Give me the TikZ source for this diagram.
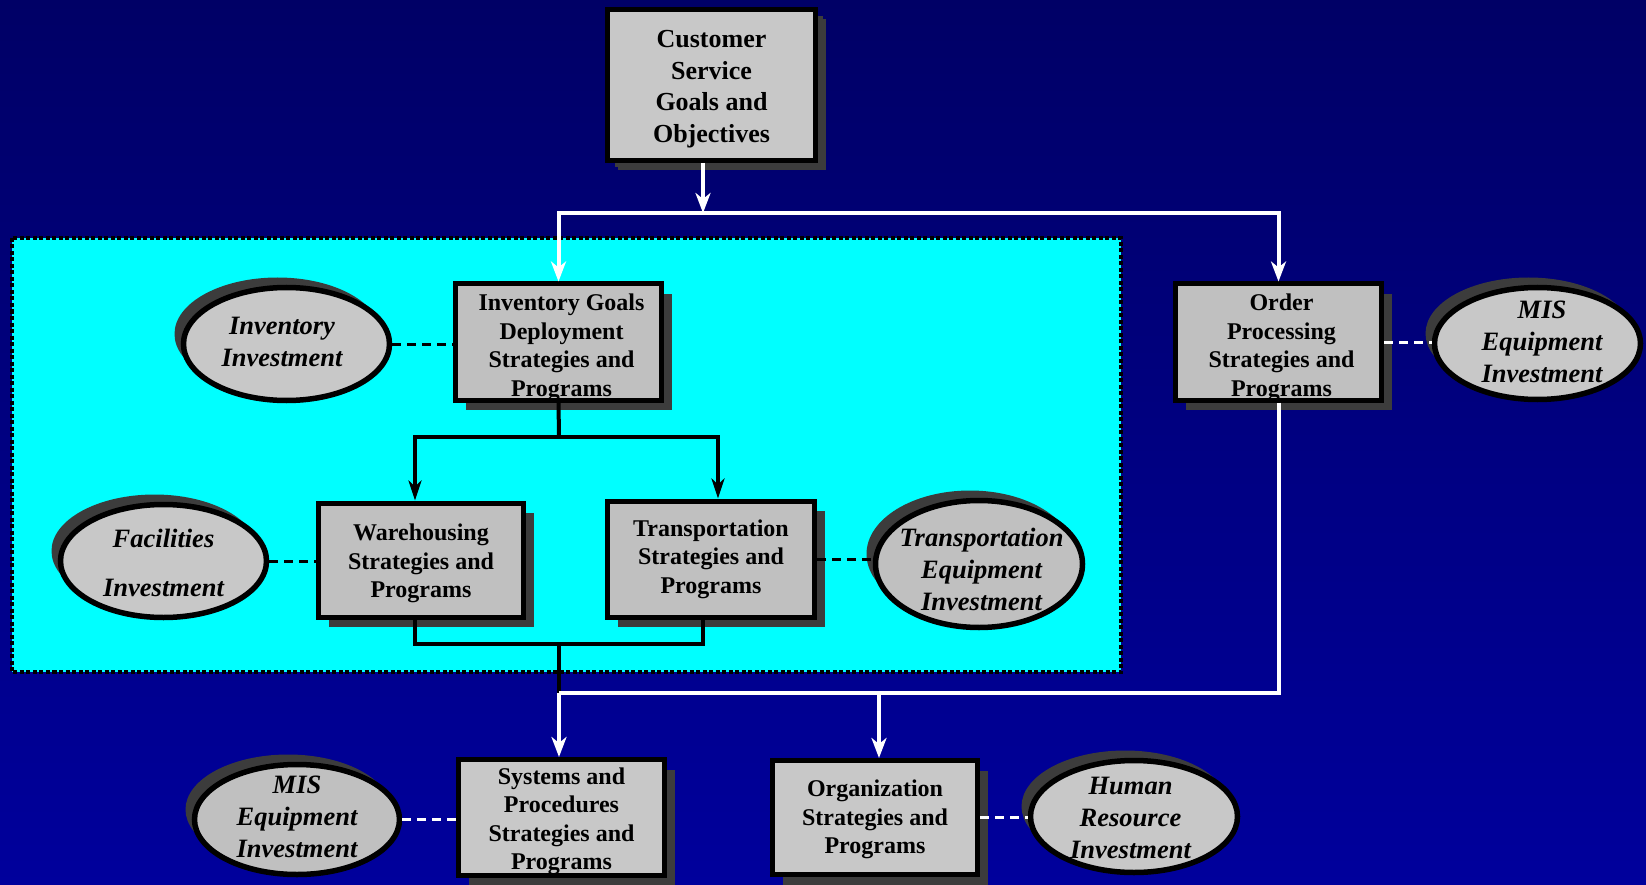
\documentclass[tikz,border=0pt]{standalone}
\usepackage{fontspec}
\setmainfont{Liberation Serif}
\usetikzlibrary{shapes.geometric,arrows.meta,shadows,calc}
\definecolor{bgtop}{RGB}{0,0,102}
\definecolor{bgbot}{RGB}{0,0,156}
\definecolor{boxfill}{RGB}{200,200,200}
\definecolor{boxfillb}{RGB}{192,192,192}
\definecolor{shadowgray}{RGB}{60,60,60}
\definecolor{zonecyan}{RGB}{0,255,255}
\newcommand\tl[3][0pt]{\kern#1\raisebox{#2}[\height][\depth]{\begin{tabular}{@{}c@{}}#3\end{tabular}}\kern-#1}
\begin{document}
\begin{tikzpicture}[x=1pt,y=-1pt,
  box/.style={rectangle, draw=black, line width=5pt, fill=boxfill, inner sep=0pt, align=center,
    font=\fontsize{24}{28.5}\selectfont\bfseries,
    general shadow={fill=shadowgray, shadow xshift=10pt, shadow yshift=-10pt}},
  oval/.style={ellipse, draw=black, line width=5.5pt, fill=boxfill, inner sep=-30pt, align=center,
    font=\fontsize{26.5}{32}\selectfont\bfseries\itshape,
    general shadow={fill=shadowgray, shadow xshift=-9pt, shadow yshift=10pt}},
  wline/.style={draw=white, line width=4pt},
  bline/.style={draw=black, line width=4pt},
  warrow/.style={wline, -{Stealth[length=20pt,width=15pt,inset=6pt]}},
  barrow/.style={bline, -{Stealth[length=20pt,width=13pt,inset=6pt]}},
  bdash/.style={draw=black, line width=3pt, dash pattern=on 9pt off 6pt},
  wdash/.style={draw=white, line width=3pt, dash pattern=on 9pt off 6pt}]
\useasboundingbox (0,0) rectangle (1646,885);
\shade[top color=bgtop, bottom color=bgbot] (0,0) rectangle (1646,885);
% cyan zone
\path[fill=zonecyan, draw=black, line width=4pt, dash pattern=on 4pt off 2.5pt] (12,238) rectangle (1121,672);

% boxes
\node[box, minimum width=208pt, minimum height=151pt, font=\fontsize{26}{31.5}\selectfont\bfseries,
  general shadow={fill=shadowgray, shadow xshift=7pt, shadow yshift=-7pt}] (cust) at (711.5,85) {\tl{-3.7pt}{Customer\\Service\\Goals and\\Objectives}};
\node[box, fill=boxfillb, minimum width=206pt, minimum height=116pt] (inv) at (558.5,342) {\tl[3pt]{-6pt}{Inventory Goals\\Deployment\\Strategies and\\Programs}};
\node[box, fill=boxfillb, minimum width=206pt, minimum height=116pt] (ord) at (1278.5,342) {\tl[3pt]{-6pt}{Order\\Processing\\Strategies and\\Programs}};
\node[box, fill=boxfillb, minimum width=205pt, minimum height=114pt] (ware) at (421,560) {\tl{-3.5pt}{Warehousing\\Strategies and\\Programs}};
\node[box, fill=boxfillb, minimum width=207pt, minimum height=116pt] (trans) at (711,559) {\tl{0pt}{Transportation\\Strategies and\\Programs}};
\node[box, minimum width=206pt, minimum height=116pt] (sys) at (561.5,817.5) {\tl{-4pt}{Systems and\\Procedures\\Strategies and\\Programs}};
\node[box, minimum width=205pt, minimum height=114pt] (org) at (875,817.5) {\tl{-2pt}{Organization\\Strategies and\\Programs}};

% ovals
\node[oval, minimum width=206pt, minimum height=113pt] (invE) at (286.5,344) {\tl[-4.5pt]{0pt}{Inventory\\Investment}};
\node[oval, minimum width=206pt, minimum height=112pt] (misR) at (1537.5,343.5) {\tl[4.5pt]{-1pt}{MIS\\Equipment\\Investment}};
\node[oval, minimum width=206pt, minimum height=113pt] (facE) at (163.5,561) {\tl{-4.5pt}{Facilities\\[17pt]Investment}};
\node[oval, fill=boxfillb, minimum width=207pt, minimum height=127pt] (trE) at (979,564) {\tl[2.5pt]{-8.5pt}{Transportation\\Equipment\\Investment}};
\node[oval, fill=boxfillb, minimum width=205pt, minimum height=110pt] (misL) at (297,819.5) {\tl{0pt}{MIS\\Equipment\\Investment}};
\node[oval, minimum width=207pt, minimum height=112pt] (humE) at (1134,816.5) {\tl[-3.5pt]{-3.5pt}{Human\\Resource\\Investment}};

% junction coordinates
\coordinate (j1) at (703,213);
\coordinate (b1) at (559,437);
\coordinate (b2) at (559,644);
\coordinate (w1) at (559,693);
\coordinate (w2) at (879,693);

% white connectors (top)
\draw[warrow] (cust.south -| j1) -- (j1);
\draw[warrow] (j1) -| (inv.north);
\draw[warrow] (j1) -| (ord.north);

% black connectors in zone
\draw[bline] (inv.south) -- (b1);
\draw[barrow] (b1) -| ([xshift=-6pt]ware.north);
\draw[barrow] (b1) -| ([xshift=7pt]trans.north);
\draw[bline] ([xshift=-6pt]ware.south) |- (b2) -| ([xshift=-8pt]trans.south);
\draw[bline] (b2) -- (w1);

% white connectors (bottom)
\draw[wline] (ord.south) |- (w1);
\draw[warrow] (w1) -- (w1 |- sys.north);
\draw[warrow] (w2) -- (w2 |- org.north);

% dashed links
\draw[bdash] (invE.east) -- (invE.east -| inv.west);
\draw[bdash] (facE.east) -- (facE.east -| ware.west);
\draw[bdash] (trans.east) -- (trans.east -| trE.west);
\draw[wdash] (ord.east) -- (ord.east -| misR.west);
\draw[wdash] (misL.east) -- (misL.east -| sys.west);
\draw[wdash] (org.east) -- (org.east -| humE.west);
\end{tikzpicture}
\end{document}
